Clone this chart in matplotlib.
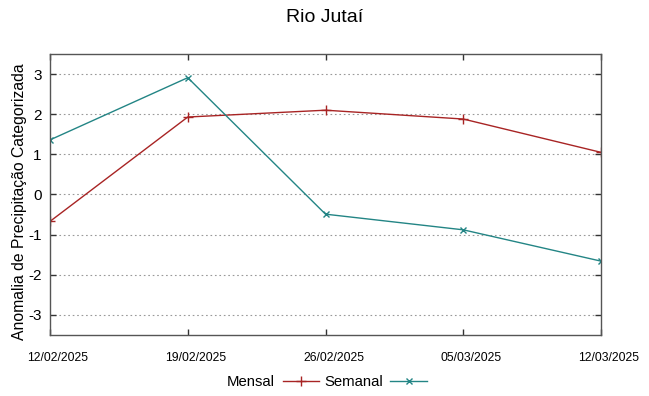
import matplotlib
matplotlib.use("Agg")
import matplotlib.pyplot as plt
import matplotlib.transforms as mtransforms

plt.rcParams['font.family'] = ['Liberation Sans', 'DejaVu Sans']

dates = ["12/02/2025", "19/02/2025", "26/02/2025", "05/03/2025", "12/03/2025"]
mensal = [-0.67, 1.93, 2.10, 1.88, 1.05]
semanal = [1.36, 2.91, -0.49, -0.88, -1.66]
yticks = [-3, -2, -1, 0, 1, 2, 3]

fig = plt.figure(figsize=(6.49, 3.96), dpi=100)
ax = fig.add_axes([50/649, 1-335/396, (601-50)/649, (335-54)/396])

x = list(range(len(dates)))
red = '#a82424'
teal = '#238585'
ax.plot(x, mensal, color=red, lw=1.0, marker='+', ms=7, mew=1.0, label='Mensal')
ax.plot(x, semanal, color=teal, lw=1.0, marker='x', ms=5, mew=1.0, label='Semanal')

ax.set_xlim(0, len(dates)-1)
ax.set_ylim(-3.5, 3.5)
ax.set_yticks(yticks)
ax.set_yticklabels([str(v) for v in yticks], fontsize=11)
ax.set_xticks(x)
ax.set_xticklabels(dates, fontsize=8.7, family=['Liberation Sans Narrow', 'Liberation Sans', 'DejaVu Sans'])
ax.tick_params(axis='both', direction='in', top=True, right=True, length=4, width=1, color='#333333')
ax.tick_params(axis='x', pad=12)
ax.tick_params(axis='y', pad=6)
offset = mtransforms.ScaledTranslation(8/100, 0, fig.dpi_scale_trans)
for lab in ax.get_xticklabels():
    lab.set_transform(lab.get_transform() + offset)
ax.yaxis.grid(True, linestyle=(0, (1.5, 2.5)), color='#999999', lw=0.8)
for s in ax.spines.values():
    s.set_color('#555555')
    s.set_linewidth(1.0)

ax.set_ylabel('Anomalia de Precipitação Categorizada', fontsize=11.35, labelpad=0)
ax.yaxis.set_label_coords(-0.042, (335-202)/281)
fig.suptitle('Rio Jutaí', fontsize=14, y=1-18/396, va='center')

leg = fig.legend(loc='center', bbox_to_anchor=(327/649, 1-382/396), ncol=2, frameon=False,
                 markerfirst=False, fontsize=10.7, handlelength=2.45, columnspacing=0.35, handletextpad=0.5)

fig.savefig('out.png', dpi=100)
